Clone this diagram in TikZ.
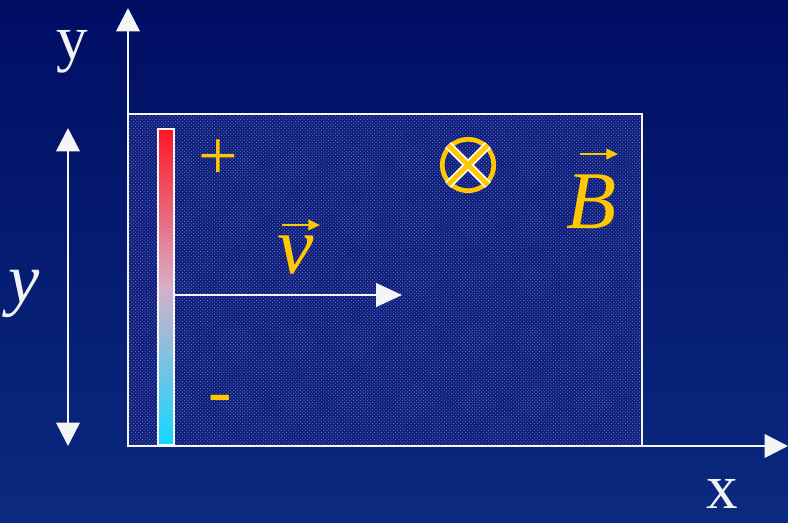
\documentclass[tikz,border=0pt]{standalone}
\usepackage{fontspec}
\setmainfont{Liberation Serif}
\usetikzlibrary{arrows.meta,patterns}
\definecolor{bgtop}{RGB}{0,14,100}
\definecolor{bgbot}{RGB}{10,42,128}
\definecolor{plate}{RGB}{14,30,122}
\definecolor{dotc}{RGB}{100,120,200}
\definecolor{gold}{RGB}{255,200,0}
\definecolor{hot}{RGB}{255,20,35}
\definecolor{cold}{RGB}{20,215,255}
\definecolor{mid}{RGB}{215,175,200}

\begin{document}
\begin{tikzpicture}[
  x=0.03cm, y=-0.03cm,
  axis/.style={draw=white!92!gray, line width=2.3pt, -{Triangle[length=20pt, width=20pt]}},
  lbl/.style={text=white!90!gray, font=\fontsize{54}{58}\selectfont, inner sep=0pt},
  vlbl/.style={text=gold, font=\fontsize{70}{74}\selectfont\itshape, inner sep=0pt},
  vec/.style={draw=gold, line width=2.2pt, -{Triangle[length=10pt, width=9pt]}},
  sign/.style={text=gold, font=\fontsize{60}{64}\selectfont, inner sep=0pt}
]
% background
\shade[shading angle=135, top color=bgtop, bottom color=bgbot] (0,0) rectangle (788,522);
\useasboundingbox (0,0) rectangle (788,522);

% plate with dotted fill
\fill[plate] (128,114) rectangle (642,446);
\fill[pattern=crosshatch dots, pattern color=dotc] (128,114) rectangle (642,446);
\draw[white!92!gray, line width=2.2pt] (128,114) rectangle (642,446);

% axes
\coordinate (o) at (128,446);
\coordinate (ytip) at (128,8);
\coordinate (xtip) at (788,446);
\draw[axis] (o) -- (ytip);
\draw[axis] (o) -- (xtip);
\node[lbl] (ylab) at (72,52) {y};
\node[lbl] (xlab) at (722,494) {x};

% height marker
\coordinate (htop) at (68,128);
\coordinate (hbot) at (68,446);
\draw[white!92!gray, line width=2.2pt, {Triangle[length=20pt, width=20pt]}-{Triangle[length=20pt, width=20pt]}] (htop) -- (hbot);
\node[text=white!90!gray, font=\fontsize{60}{64}\selectfont\itshape, inner sep=0pt] (hlab) at (24,294) {y};

% charged strip
\shade[top color=hot, bottom color=cold, middle color=mid] (158,129) rectangle (174,445);
\draw[white!92!gray, line width=2pt] (158,129) rectangle (174,445);
\node[sign] (plus) at (218,160) {+};
\node[sign] (minus) at (220,405) {-};

% velocity
\coordinate (vstart) at (174,295);
\coordinate (vend) at (402,295);
\draw[white!92!gray, line width=2pt, -{Triangle[length=22pt, width=20pt]}] (vstart) -- (vend);
\node[vlbl] (vlab) at (296,255) {v};
\draw[vec] (282,225) -- (320,225);

% field into page
\node[circle, draw=gold, line width=4pt, minimum size=44pt, inner sep=0pt] (bin) at (468,165) {};
\draw[white, line width=7pt] (bin.north west) -- (bin.south east) (bin.north east) -- (bin.south west);
\draw[gold, line width=4pt] (bin.north west) -- (bin.south east) (bin.north east) -- (bin.south west);
\node[vlbl] (blab) at (592,202) {B};
\draw[vec] (580,154) -- (618,154);
\end{tikzpicture}
\end{document}
